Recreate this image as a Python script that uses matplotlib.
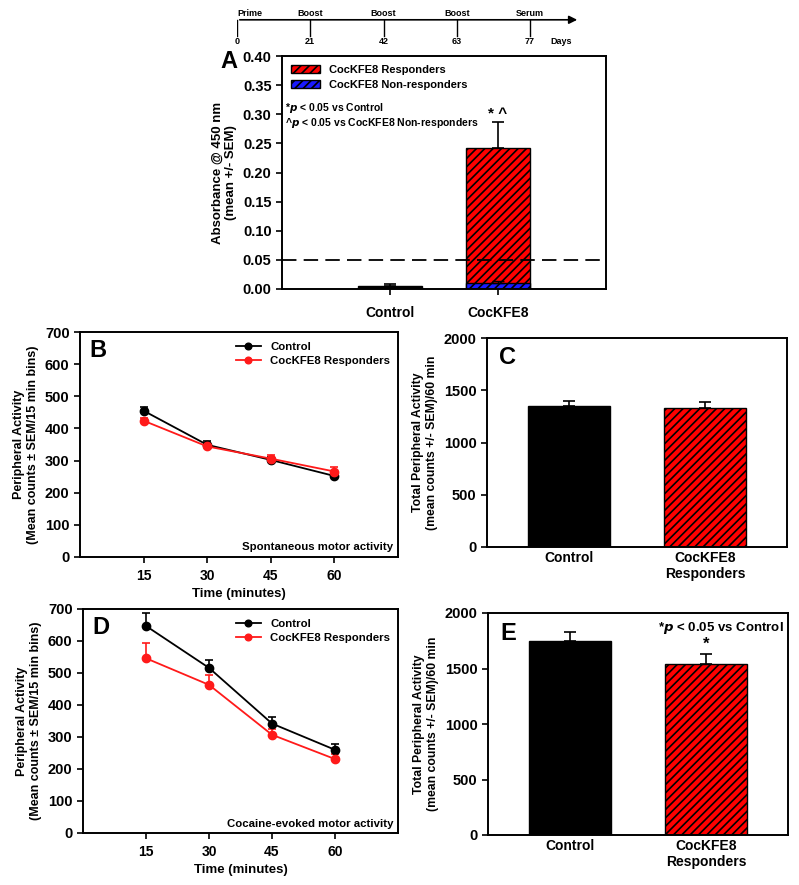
import numpy as np
import matplotlib
matplotlib.use('Agg')
import matplotlib.pyplot as plt

plt.rcParams['font.family'] = ['Liberation Sans', 'DejaVu Sans']
plt.rcParams['font.weight'] = 'bold'
plt.rcParams['hatch.linewidth'] = 1.2
plt.rcParams['axes.linewidth'] = 1.4

# timeline
events = ['Prime', 'Boost', 'Boost', 'Boost', 'Serum']
event_days = ['0', '21', '42', '63', '77']

# panel A
a_groups = ['Control', 'CocKFE8']
a_control = 0.005
a_control_err = 0.003
a_resp = 0.242
a_resp_err = 0.044
a_nonresp = 0.011
a_nonresp_err = 0.002
a_cutoff = 0.05

# panels B and D (time course)
minutes = [15, 30, 45, 60]
b_ctrl = [455, 349, 302, 252]
b_ctrl_err = [12, 12, 8, 5]
b_resp = [424, 344, 306, 266]
b_resp_err = [8, 8, 10, 13]
d_ctrl = [647, 516, 342, 260]
d_ctrl_err = [39, 25, 19, 18]
d_resp = [546, 463, 307, 231]
d_resp_err = [47, 31, 17, 15]

# panels C and E (totals)
tot_groups = ['Control', 'CocKFE8\nResponders']
c_vals = [1345, 1330]
c_errs = [55, 60]
e_vals = [1745, 1540]
e_errs = [85, 90]

W, H = 799, 885
fig = plt.figure(figsize=(W / 100, H / 100), dpi=100)


def box(l, t, r, b):
    return fig.add_axes([l / W, 1 - b / H, (r - l) / W, (b - t) / H])


def style(ax):
    ax.tick_params(direction='out', length=4, width=1.2)
    ax.tick_params(axis='y', labelsize=10.5)
    ax.tick_params(axis='x', labelsize=10)
    for lab in ax.get_xticklabels() + ax.get_yticklabels():
        lab.set_fontweight('bold')


# ---- timeline ----
tl = box(237, 5, 580, 45)
tl.set_xlim(0, 343 / 73.25)
tl.set_ylim(0, 1)
tl.axis('off')
tl.annotate('', xy=(343 / 73.25, 0.63), xytext=(0, 0.63),
            arrowprops=dict(arrowstyle='-|>', color='black', lw=1.2, mutation_scale=12))
for i in range(len(events)):
    tl.plot([i, i], [0.63, 0.22], color='black', lw=1.0)
    tl.text(i, 0.68, events[i], ha='center' if i else 'left', va='bottom', fontsize=6.5)
    tl.text(i, 0.2, event_days[i], ha='center', va='top', fontsize=6.5)
tl.text(4.42, 0.2, 'Days', ha='center', va='top', fontsize=6.5)

# ---- panel A ----
ax = box(282, 56, 606, 289)
xa = np.arange(1, len(a_groups) + 1)
ax.bar(xa[0], a_control, width=0.6, color='black', edgecolor='black')
ax.errorbar(xa[0], a_control, yerr=[[0], [a_control_err]], fmt='none', ecolor='black',
            capsize=4, elinewidth=1.2, capthick=1.2)
ax.bar(xa[1], a_resp, width=0.6, color='#ff0000', edgecolor='black', hatch='////',
       label='CocKFE8 Responders')
ax.errorbar(xa[1], a_resp, yerr=[[0], [a_resp_err]], fmt='none', ecolor='black',
            capsize=4, elinewidth=1.2, capthick=1.2)
ax.bar(xa[1], a_nonresp, width=0.6, color='#1a1aff', edgecolor='black', hatch='////',
       label='CocKFE8 Non-responders')
ax.errorbar(xa[1], a_nonresp, yerr=[[0], [a_nonresp_err]], fmt='none', ecolor='black',
            capsize=4, elinewidth=1.0, capthick=1.0)
ax.axhline(a_cutoff, color='black', lw=1.3, ls=(0, (8, 4)))
ax.set_xlim(0, 3)
ax.set_ylim(0, 0.4)
ax.set_yticks(np.arange(0, 0.41, 0.05))
ax.set_yticklabels(['%.2f' % v for v in np.arange(0, 0.41, 0.05)])
ax.set_xticks(xa)
ax.set_xticklabels(a_groups)
ax.set_ylabel('Absorbance @ 450 nm\n(mean +/- SEM)', fontsize=9.5, fontweight='bold', labelpad=4)
style(ax)
ax.tick_params(axis='x', pad=8)
ax.legend(loc='upper left', frameon=False, handlelength=2.6, handleheight=0.6,
          borderaxespad=0.4, labelspacing=0.45, prop={'weight': 'bold', 'size': 8})
ax.text(0.03, 0.298, r'*$\it{p}$ < 0.05 vs Control' + '\n' + r'^$\it{p}$ < 0.05 vs CocKFE8 Non-responders',
        transform=ax.transData, fontsize=7.5, va='center', ha='left', linespacing=1.15)
ax.text(xa[1], a_resp + a_resp_err + 0.002, '* ^', ha='center', va='bottom', fontsize=11)
fig.text(220 / W, 1 - 62 / H, 'A', fontsize=17, fontweight='bold', va='center')


# ---- line panels ----
def line_panel(ax, ctrl, ctrl_err, resp, resp_err, letter, note):
    ax.errorbar(minutes, ctrl, yerr=[np.zeros(len(ctrl)), ctrl_err], fmt='none', ecolor='black',
                capsize=3, elinewidth=1.2, capthick=1.2)
    ax.errorbar(minutes, resp, yerr=[np.zeros(len(resp)), resp_err], fmt='none', ecolor='#ff1a1a',
                capsize=3, elinewidth=1.2, capthick=1.2)
    ax.plot(minutes, ctrl, color='black', marker='o', ms=6, lw=1.3, label='Control')
    ax.plot(minutes, resp, color='#ff1a1a', marker='o', ms=6, lw=1.3, label='CocKFE8 Responders')
    ax.set_xlim(0, 75)
    ax.set_ylim(0, 700)
    ax.set_xticks(minutes)
    ax.set_yticks(range(0, 701, 100))
    ax.set_xlabel('Time (minutes)', fontsize=9.5, fontweight='bold', labelpad=3)
    ax.set_ylabel('Peripheral Activity\n(Mean counts \u00b1 SEM/15 min bins)', fontsize=9,
                  fontweight='bold', labelpad=4)
    style(ax)
    ax.tick_params(axis='x', pad=5)
    ax.legend(loc='upper right', frameon=False, handlelength=2.2, borderaxespad=0.3,
              labelspacing=0.3, bbox_to_anchor=(1.0, 0.99), markerscale=0.8,
              prop={'weight': 'bold', 'size': 8.2})
    ax.text(0.985, 0.02, note, transform=ax.transAxes, ha='right', va='bottom', fontsize=8.2)
    ax.text(0.03, 0.97, letter, transform=ax.transAxes, ha='left', va='top', fontsize=17)


axb = box(80, 332, 398, 557)
line_panel(axb, b_ctrl, b_ctrl_err, b_resp, b_resp_err, 'B', 'Spontaneous motor activity')
axd = box(83, 609, 398, 833)
line_panel(axd, d_ctrl, d_ctrl_err, d_resp, d_resp_err, 'D', 'Cocaine-evoked motor activity')


# ---- total panels ----
def total_panel(ax, vals, errs, letter):
    x = np.arange(len(tot_groups))
    ax.bar(x[0], vals[0], width=0.6, color='black', edgecolor='black')
    ax.bar(x[1], vals[1], width=0.6, color='#ff0000', edgecolor='black', hatch='////')
    ax.errorbar(x, vals, yerr=[np.zeros(len(vals)), errs], fmt='none', ecolor='black',
                capsize=4, elinewidth=1.2, capthick=1.2)
    ax.set_xlim(-0.6, 1.6)
    ax.set_ylim(0, 2000)
    ax.set_yticks(range(0, 2001, 500))
    ax.set_xticks(x)
    ax.set_xticklabels(tot_groups)
    ax.set_ylabel('Total Peripheral Activity\n(mean counts +/- SEM)/60 min', fontsize=8.8,
                  fontweight='bold', labelpad=4)
    style(ax)
    ax.tick_params(axis='x', length=0, pad=3)
    ax.text(0.04, 0.96, letter, transform=ax.transAxes, ha='left', va='top', fontsize=17)


axc = box(487, 338, 787, 547)
total_panel(axc, c_vals, c_errs, 'C')
axe = box(488, 613, 788, 835)
total_panel(axe, e_vals, e_errs, 'E')
axe.text(1, e_vals[1] + e_errs[1] + 20, '*', ha='center', va='bottom', fontsize=12)
axe.text(0.985, 0.97, r'*$\it{p}$ < 0.05 vs Control', transform=axe.transAxes, ha='right',
         va='top', fontsize=9.5)

fig.savefig('out.png', dpi=100)
